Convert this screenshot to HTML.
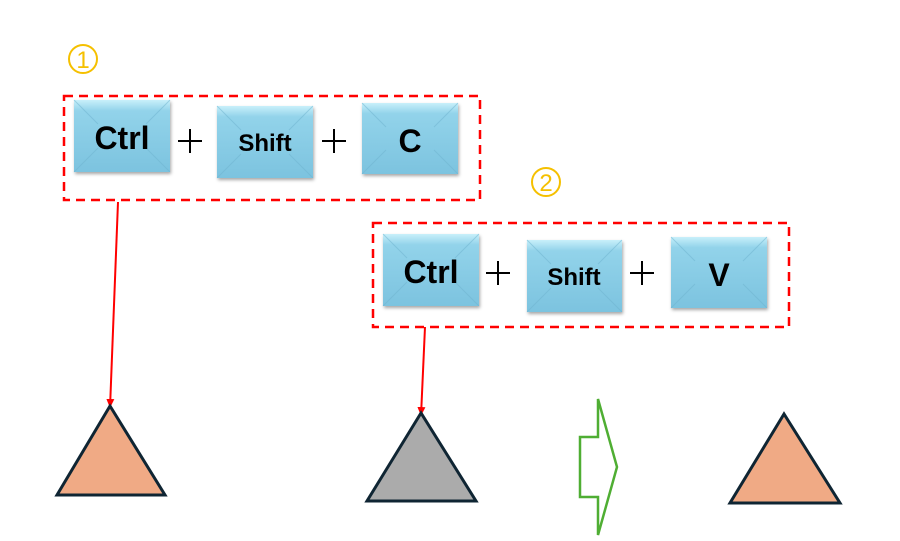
<!DOCTYPE html>
<html><head><style>body{margin:0;background:#fff}svg{display:block}</style></head><body>
<svg width="900" height="541" viewBox="0 0 900 541" xmlns="http://www.w3.org/2000/svg">
<defs>
<linearGradient id="g" x1="0" y1="0" x2="0" y2="1"><stop offset="0" stop-color="#c8f0fa"/><stop offset="0.15" stop-color="#92d3ea"/><stop offset="1" stop-color="#7cc3df"/></linearGradient>
<filter id="s"><feDropShadow dx="1" dy="2" stdDeviation="1.5" flood-opacity="0.35"/></filter>
<marker id="a" markerWidth="10" markerHeight="10" refX="9" refY="4" orient="auto" markerUnits="userSpaceOnUse"><path d="M0,0 L9,4 L0,8z" fill="#f00"/></marker>
</defs>
<g font-family="Liberation Sans, sans-serif" font-weight="bold" text-anchor="middle">
<circle cx="83" cy="59" r="14" fill="none" stroke="#f5c000" stroke-width="2"/>
<text x="83" y="68" font-size="24" fill="#f5c000" font-weight="normal">1</text>
<rect x="64" y="96" width="416" height="104" fill="none" stroke="#f00" stroke-width="2.5" stroke-dasharray="9,6"/>
<circle cx="546" cy="182" r="14" fill="none" stroke="#f5c000" stroke-width="2"/>
<text x="546" y="191" font-size="24" fill="#f5c000" font-weight="normal">2</text>
<rect x="373" y="223" width="416" height="104" fill="none" stroke="#f00" stroke-width="2.5" stroke-dasharray="9,6"/>
<g filter="url(#s)">
<rect x="74" y="100" width="96" height="72" fill="url(#g)"/>
<rect x="217" y="106" width="96" height="72" fill="url(#g)"/>
<rect x="362" y="103" width="96" height="71" fill="url(#g)"/>
<rect x="383" y="234" width="96" height="72" fill="url(#g)"/>
<rect x="527" y="240" width="95" height="72" fill="url(#g)"/>
<rect x="671" y="237" width="96" height="71" fill="url(#g)"/>
</g>
<g stroke="#6fb3cf" stroke-width="1" opacity="0.5">
<path d="M74,100 L98,124 M170,100 L146,124 M74,172 L98,148 M170,172 L146,148"/>
<path d="M217,106 L241,130 M313,106 L289,130 M217,178 L241,154 M313,178 L289,154"/>
<path d="M362,103 L386,127 M458,103 L434,127 M362,174 L386,150 M458,174 L434,150"/>
<path d="M383,234 L407,258 M479,234 L455,258 M383,306 L407,282 M479,306 L455,282"/>
<path d="M527,240 L551,264 M622,240 L598,264 M527,312 L551,288 M622,312 L598,288"/>
<path d="M671,237 L695,261 M767,237 L743,261 M671,308 L695,284 M767,308 L743,284"/>
</g>
<text x="122" y="149" font-size="32">Ctrl</text>
<text x="265" y="151" font-size="24">Shift</text>
<text x="410" y="152" font-size="32">C</text>
<text x="431" y="283" font-size="32">Ctrl</text>
<text x="574" y="285" font-size="24">Shift</text>
<text x="719" y="286" font-size="32">V</text>
<path d="M178,141 H202 M190,129 V153 M322,141 H346 M334,129 V153 M486,273 H510 M498,261 V285 M630,273 H654 M642,261 V285" stroke="#000" stroke-width="2"/>
</g>
<line x1="118" y1="202" x2="110" y2="408" stroke="#f00" stroke-width="2" marker-end="url(#a)"/>
<line x1="425" y1="327" x2="421" y2="416" stroke="#f00" stroke-width="2" marker-end="url(#a)"/>
<polygon points="110,406 57,495 165,495" fill="#f0aa85" stroke="#0f2533" stroke-width="3"/>
<polygon points="421,413 367,501 476,501" fill="#ababab" stroke="#0f2533" stroke-width="3"/>
<polygon points="784,414 730,503 840,503" fill="#f0aa85" stroke="#0f2533" stroke-width="3"/>
<polygon points="580,437 598,437 598,399 617,467 598,535 598,497 580,497" fill="none" stroke="#4fae33" stroke-width="2.5"/>
</svg>
</body></html>
